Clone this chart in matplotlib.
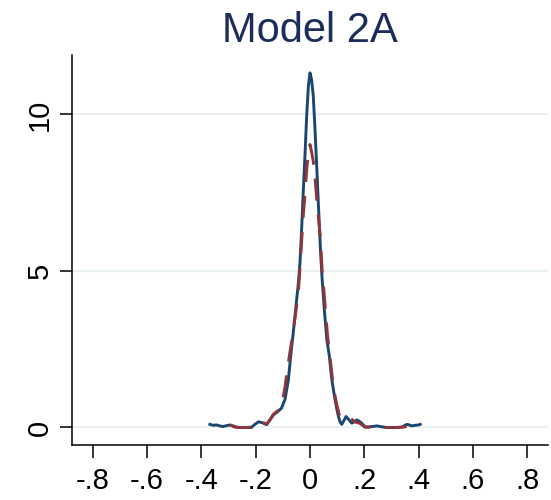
import matplotlib
matplotlib.use("Agg")
import matplotlib.pyplot as plt

plt.rcParams['font.family'] = ['Liberation Sans', 'DejaVu Sans']
plt.rcParams['lines.scale_dashes'] = False

title = "Model 2A"
x_ticks = [-0.8, -0.6, -0.4, -0.2, 0.0, 0.2, 0.4, 0.6, 0.8]
x_tick_labels = ["-.8", "-.6", "-.4", "-.2", "0", ".2", ".4", ".6", ".8"]
y_ticks = [0, 5, 10]
y_tick_labels = ["0", "5", "10"]

blue_x = [-0.369, -0.357, -0.344, -0.332, -0.320, -0.307, -0.295, -0.283, -0.270, -0.258,
          -0.246, -0.233, -0.215, -0.203, -0.190, -0.175, -0.160, -0.147, -0.135, -0.117,
          -0.105, -0.092, -0.080, -0.071, -0.062, -0.052, -0.043, -0.037, -0.031, -0.025,
          -0.018, -0.012, -0.006, 0.0, 0.006, 0.012, 0.018, 0.025, 0.031, 0.039,
          0.045, 0.052, 0.062, 0.071, 0.080, 0.092, 0.098, 0.105, 0.111, 0.117,
          0.125, 0.133, 0.143, 0.154, 0.163, 0.172, 0.181, 0.190, 0.203, 0.215,
          0.230, 0.246, 0.265, 0.283, 0.300, 0.320, 0.338, 0.357, 0.366, 0.375,
          0.388, 0.400, 0.406]
blue_y = [0.10, 0.07, 0.08, 0.05, 0.03, 0.06, 0.08, 0.05, 0.01, 0.00,
          0.00, 0.00, 0.01, 0.10, 0.18, 0.15, 0.09, 0.25, 0.40, 0.52,
          0.62, 0.90, 1.50, 2.30, 3.00, 3.85, 4.60, 5.25, 6.30, 7.50,
          8.80, 10.0, 10.9, 11.33, 11.1, 10.6, 9.6, 8.3, 7.1, 5.6,
          4.7, 3.85, 2.8, 2.3, 1.55, 0.90, 0.62, 0.35, 0.18, 0.10,
          0.22, 0.35, 0.25, 0.14, 0.18, 0.24, 0.20, 0.14, 0.02, 0.01,
          0.03, 0.05, 0.02, 0.00, 0.00, 0.00, 0.01, 0.10, 0.08, 0.05,
          0.07, 0.08, 0.10]

red_x = [-0.295, -0.283, -0.270, -0.246, -0.215, -0.203, -0.190, -0.175, -0.160, -0.147,
         -0.135, -0.117, -0.105, -0.092, -0.086, -0.075, -0.064, -0.052, -0.043, -0.037,
         -0.025, -0.018, -0.012, -0.006, 0.0, 0.006, 0.012, 0.016, 0.027, 0.037,
         0.045, 0.052, 0.064, 0.075, 0.086, 0.098, 0.108, 0.117, 0.125, 0.133,
         0.143, 0.154, 0.165, 0.184, 0.203, 0.220, 0.240, 0.264, 0.290, 0.320,
         0.340, 0.357, 0.380, 0.400]
red_y = [0.08, 0.03, 0.00, 0.00, 0.00, 0.08, 0.19, 0.16, 0.11, 0.25,
         0.42, 0.55, 0.68, 1.30, 1.70, 2.35, 2.95, 3.70, 4.30, 5.10,
         6.75, 7.50, 8.25, 8.80, 9.04, 8.80, 8.50, 8.24, 7.07, 6.20,
         5.00, 4.30, 3.00, 2.15, 1.30, 0.75, 0.40, 0.33, 0.40, 0.38,
         0.30, 0.26, 0.18, 0.13, 0.01, 0.02, 0.05, 0.00, 0.00, 0.00,
         0.01, 0.03, 0.06, 0.10]

fig = plt.figure(figsize=(5.51, 5.0), dpi=100)
ax = fig.add_axes([72 / 551, 55 / 500, (548 - 72) / 551, (445 - 55) / 500])

for yt in y_ticks:
    ax.axhline(yt, color='#e9f1f3', lw=1.5, zorder=0)

ax.plot(blue_x, blue_y, color='#1a476f', lw=2.1, solid_joinstyle='round', zorder=2)
ax.plot(red_x, red_y, color='#90353b', lw=2.1, dashes=(16, 10), zorder=3)

ax.set_xlim(-0.877, 0.877)
ax.set_ylim(-0.56, 11.9)

ax.set_xticks(x_ticks)
ax.set_xticklabels(x_tick_labels)
ax.set_yticks(y_ticks)
ax.set_yticklabels(y_tick_labels, rotation=90, va='center')

ax.tick_params(axis='x', length=9.5, width=1.1, pad=6, labelsize=21, colors='black')
ax.tick_params(axis='y', length=9.0, width=1.1, pad=4, labelsize=21, colors='black')

for s in ['top', 'right']:
    ax.spines[s].set_visible(False)
for s in ['left', 'bottom']:
    ax.spines[s].set_linewidth(1.1)
    ax.spines[s].set_color('black')

fig.text(310 / 551, 1 - 42 / 500, title, ha='center', va='baseline',
         fontsize=30, color='#1c2d5a')

fig.savefig('out.png', dpi=100, facecolor='white')
